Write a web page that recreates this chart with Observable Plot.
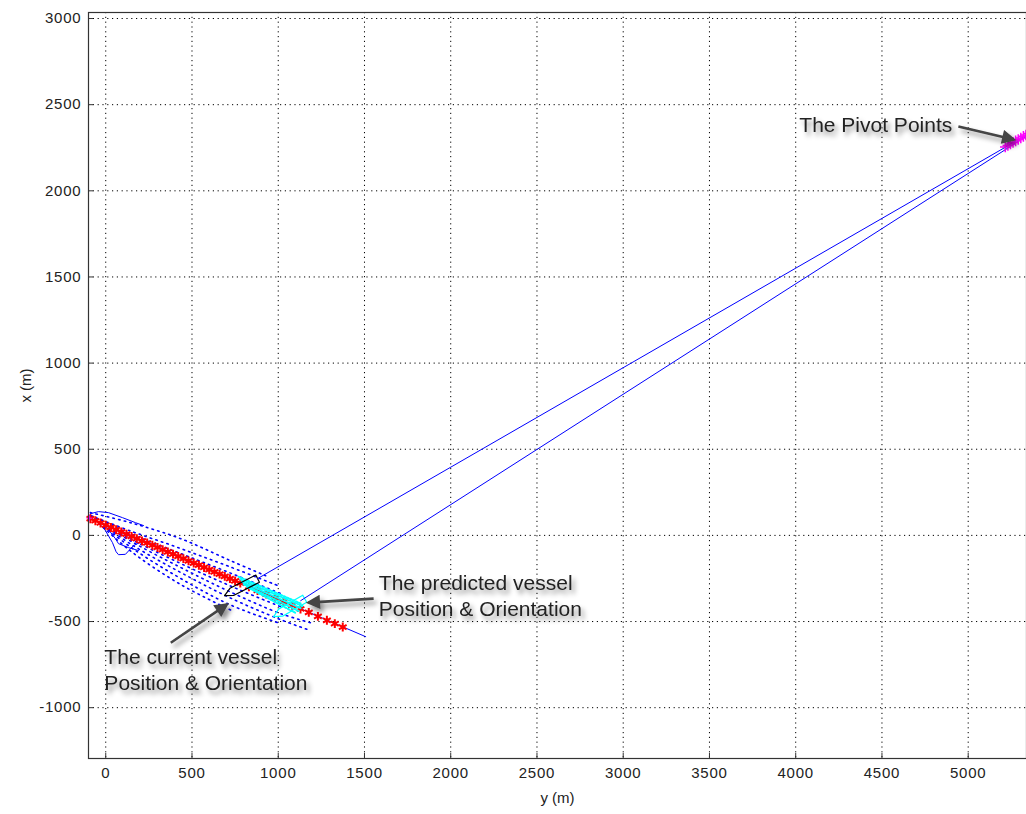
<!DOCTYPE html>
<html><head><meta charset="utf-8">
<script src="https://cdn.jsdelivr.net/npm/d3@7"></script>
<script src="https://cdn.jsdelivr.net/npm/@observablehq/plot@0.6"></script>
<style>
body{margin:0;background:#fff;}
#chart svg{font-family:"Liberation Sans",Arial,sans-serif;}
</style>
</head><body><div id="chart"></div>
<script>
// ---- data ----
const xTicks = [0,500,1000,1500,2000,2500,3000,3500,4000,4500,5000];
const yTicks = [-1000,-500,0,500,1000,1500,2000,2500,3000];

// vessel track (blue thin line)
const track = [[-89,100],[1507,-588]];
// red star samples along the track
const redStars = [[-89,97],[-60,85],[-30,72],[0,59],[30,46],[60,33],[90,20],[120,7],[150,-6],[180,-19],[210,-32],[240,-44],[270,-57],[300,-70],[330,-83],[360,-96],[390,-109],[420,-122],[450,-135],[480,-148],[510,-161],[540,-173],[570,-186],[600,-199],[630,-212],[660,-225],[690,-238],[720,-251],[750,-264],[780,-277],[830,-298],[880,-320],[930,-341],[980,-363],[1030,-384],[1080,-406],[1129,-427],[1177,-447],[1230,-470],[1282,-493],[1328,-512],[1374,-532]];
// dotted fan of candidate paths
const fanPaths = [
  [[-88,115],[143,-90],[434,-285],[724,-433]],
  [[-88,115],[143,-67],[434,-250],[724,-404],[1014,-512]],
  [[-88,115],[143,-49],[434,-215],[724,-364],[1014,-489],[1188,-553]],
  [[-88,115],[143,-32],[434,-186],[724,-329],[1014,-454],[1188,-507]],
  [[-88,115],[143,-20],[434,-163],[724,-294],[1014,-414]],
  [[-88,115],[143,9],[434,-105],[724,-219],[1014,-338]],
  [[-88,115],[143,26],[434,-76],[724,-184],[1014,-298]],
  [[-89,132],[143,74],[434,-19],[724,-147],[927,-234]]
];
// solid blue early manoeuvre scribbles
const scribbleA = [[-89,126],[-42,138],[16,132],[97,103],[172,74],[219,57]];
const scribbleB = [[-42,74],[-2,28],[39,-42],[60,-95],[74,-112],[114,-110],[160,-60],[200,-40]];
const scribbleC = [[-2,57],[56,-19],[74,-48],[132,-71],[190,-88]];
// cyan predicted samples
const cyanPaths = [
  [[770,-240],[1130,-395]],
  [[780,-255],[1140,-410]],
  [[790,-270],[1135,-425]],
  [[800,-285],[1120,-440]],
  [[820,-300],[1100,-450]]
];
// vessel outlines
const currentVessel = [[689,-350],[720,-307],[870,-230],[891,-272],[741,-349],[689,-350]];
const predictedVessel = [[973,-472],[1002,-428],[1142,-347],[1165,-388],[1025,-469],[973,-472]];
// lines to pivot points
const pivotLines = [
  [[880,-251],[5340,2325]],
  [[1130,-379],[5345,2322]]
];
const pivotPoints = [[5215,2255],[5230,2263],[5245,2272],[5260,2281],[5275,2290],[5290,2298],[5305,2307],[5320,2316],[5335,2324],[5350,2333]];
const startMarker = [[-95,100]];
// annotations
const annotTexts = [
  {x:4021, y:2390, text:"The Pivot Points"},
  {x:1583, y:-344, text:"The predicted vessel\nPosition & Orientation"},
  {x:-8, y:-774, text:"The current vessel\nPosition & Orientation"}
];
const annotArrows = [
  {x1:4943, y1:2373, x2:5263, y2:2298},
  {x1:1553, y1:-367, x2:1176, y2:-390},
  {x1:377, y1:-623, x2:701, y2:-402}
];

// ---- build tables ----
const toRows = (pts, id) => pts.map(([x,y]) => ({x, y, id}));
const fanRows = fanPaths.flatMap((p,i) => toRows(p, "f"+i));
const scribbleRows = [...toRows(scribbleA,"a"), ...toRows(scribbleB,"b"), ...toRows(scribbleC,"c")];
const cyanRows = cyanPaths.flatMap((p,i) => toRows(p, "c"+i));
const pivotRows = pivotLines.flatMap((p,i) => toRows(p, "p"+i));
const fmt = d => String(d);

const plot = Plot.plot({
  width: 1026,
  height: 814,
  marginLeft: 88,
  marginTop: 12,
  marginBottom: 56,
  marginRight: 0,
  x: {domain: [-100, 5338], label: null},
  y: {domain: [-1295, 3035], label: null},
  style: {fontFamily: "Liberation Sans, Arial, sans-serif", background: "#fff"},
  marks: [
    Plot.gridX(xTicks, {stroke: "#000", strokeOpacity: 1, strokeWidth: 1, strokeDasharray: "1.2,3.6"}),
    Plot.gridY(yTicks, {stroke: "#000", strokeOpacity: 1, strokeWidth: 1, strokeDasharray: "1.2,3.6"}),
    Plot.line(fanRows, {x: "x", y: "y", z: "id", stroke: "#0000ff", strokeWidth: 1.6, strokeDasharray: "1.5,4.3", curve: "catmull-rom"}),
    Plot.line(scribbleRows, {x: "x", y: "y", z: "id", stroke: "#0000ff", strokeWidth: 1}),
    Plot.line(toRows(track,"t"), {x: "x", y: "y", stroke: "#0000ff", strokeWidth: 1}),
    Plot.dot(toRows(redStars,"r"), {x: "x", y: "y", symbol: "asterisk", stroke: "#ff0000", r: 4.2, strokeWidth: 2}),
    Plot.line(cyanRows, {x: "x", y: "y", z: "id", stroke: "#00ffff", strokeWidth: 2, strokeDasharray: "1.5,1.8"}),
    Plot.line(toRows(predictedVessel,"pv"), {x: "x", y: "y", stroke: "#00ffff", strokeWidth: 1.2}),
    Plot.line(toRows(currentVessel,"cv"), {x: "x", y: "y", stroke: "#000", strokeWidth: 1.2}),
    Plot.line(pivotRows, {x: "x", y: "y", z: "id", stroke: "#0000ff", strokeWidth: 1}),
    Plot.dot(toRows(pivotPoints,"pp"), {x: "x", y: "y", symbol: "plus", stroke: "#ff00ff", r: 3.5, strokeWidth: 1.5, clip: true}),
    Plot.dot(toRows(startMarker,"s"), {x: "x", y: "y", symbol: "plus", stroke: "#ff00ff", r: 2, strokeWidth: 1}),
    Plot.frame({stroke: "#333", strokeWidth: 1.2}),
    Plot.axisX(xTicks, {anchor: "bottom", tickSize: -5, tickPadding: 14, tickFormat: fmt, fontSize: 15, stroke: "#333", color: "#222", label: "y (m)", labelAnchor: "center", labelArrow: "none", labelOffset: 44}),
    Plot.axisY(yTicks, {anchor: "left", tickSize: -5, tickPadding: 12, tickFormat: fmt, fontSize: 15, stroke: "#333", color: "#222", label: "x (m)", labelAnchor: "center", labelArrow: "none", labelOffset: 68}),
    Plot.link(annotArrows, {x1: "x1", y1: "y1", x2: "x2", y2: "y2", stroke: "#444", strokeWidth: 2.6, ariaDescription: "annot-arrow"}),
    Plot.text(annotTexts, {x: "x", y: "y", text: "text", textAnchor: "start", lineAnchor: "middle", fontSize: 21, lineHeight: 1.24, fill: "#222", ariaDescription: "annot-text"})
  ]
});

// post-process: arrow heads and soft shadows
const svg = d3.select(plot);
const defs = svg.insert("defs", ":first-child");
const f = defs.append("filter").attr("id", "shadow").attr("x", "-20%").attr("y", "-40%").attr("width", "150%").attr("height", "200%");
f.append("feDropShadow").attr("dx", 3).attr("dy", 4).attr("stdDeviation", 2.8).attr("flood-color", "#000").attr("flood-opacity", 0.45);
defs.append("marker").attr("id", "ahead").attr("viewBox", "0 -5 10 10").attr("refX", 8).attr("refY", 0)
  .attr("markerWidth", 7).attr("markerHeight", 5.5).attr("orient", "auto").attr("markerUnits", "strokeWidth")
  .append("path").attr("d", "M0,-5L10,0L0,5Z").attr("fill", "#444").attr("stroke", "none");
svg.selectAll('g[aria-description="annot-arrow"] path').attr("marker-end", "url(#ahead)");
svg.selectAll('g[aria-description="annot-arrow"], g[aria-description="annot-text"]').attr("filter", "url(#shadow)");
svg.selectAll('g[aria-label="x-axis tick label"] text, g[aria-label="y-axis tick label"] text').attr("letter-spacing", "0.8px");
svg.selectAll('g[aria-label="x-axis label"] text, g[aria-label="y-axis label"] text').attr("font-size", 15).attr("fill", "#222");

document.getElementById("chart").appendChild(plot);
</script>
</body></html>
